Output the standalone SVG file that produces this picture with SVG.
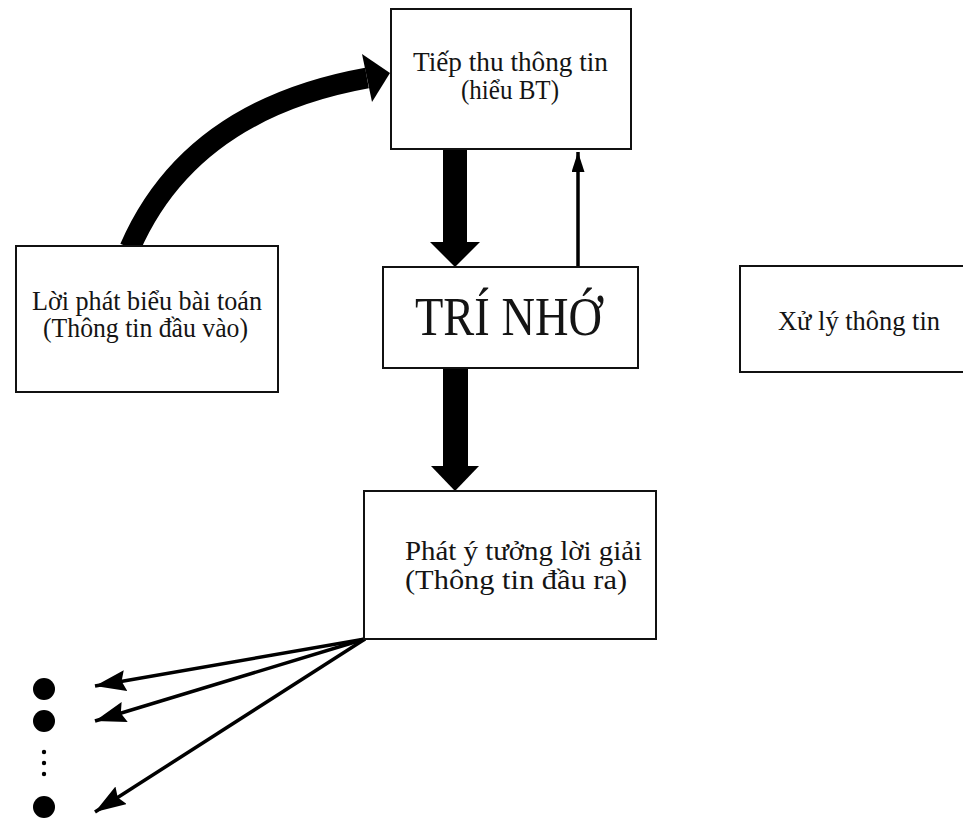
<svg xmlns="http://www.w3.org/2000/svg" width="963" height="822" viewBox="0 0 963 822">
  <style>
    .box { fill: #ffffff; stroke: #111111; stroke-width: 2; }
    .lbl { font-family: "Liberation Serif", "Times New Roman", serif; font-size: 27px; fill: #141414; }
    .big { font-size: 55px; }
    .thin { fill: none; stroke: #000000; stroke-width: 3.5; }
    .solid { fill: #000000; }
  </style>
  <defs>
    <marker id="head" markerUnits="userSpaceOnUse" markerWidth="34" markerHeight="24" refX="31" refY="10.5" orient="auto">
      <path d="M0,0 L31,10.5 L0,21 L4,10.5 Z" fill="#000000"/>
    </marker>
    <marker id="headSmall" markerUnits="userSpaceOnUse" markerWidth="22" markerHeight="14" refX="20" refY="6.5" orient="auto">
      <path d="M0,0 L20,6.5 L0,13 Z" fill="#000000"/>
    </marker>
  </defs>

  <rect width="963" height="822" fill="#ffffff"/>

  <!-- connectors -->
  <g id="connectors">
    <!-- curved input arrow -->
    <path d="M130,248 Q190,110 367,78" fill="none" stroke="#000000" stroke-width="21"/>
    <polygon class="solid" points="362,54 390,73 372,102"/>

    <!-- thick arrow: receive -> memory -->
    <rect class="solid" x="443" y="149" width="24" height="94"/>
    <polygon class="solid" points="430,242 480,242 455,267"/>

    <!-- thin arrow: memory -> receive -->
    <line class="thin" x1="578" y1="267" x2="578" y2="152" stroke-width="2.5" marker-end="url(#headSmall)"/>

    <!-- thick arrow: memory -> output -->
    <rect class="solid" x="443" y="368" width="25" height="99"/>
    <polygon class="solid" points="431,466 479,466 455,491"/>

    <!-- fan of outputs -->
    <line class="thin" x1="365" y1="639" x2="95" y2="686" marker-end="url(#head)"/>
    <line class="thin" x1="365" y1="639" x2="95" y2="721" marker-end="url(#head)"/>
    <line class="thin" x1="365" y1="639" x2="95" y2="812" marker-end="url(#head)"/>
  </g>

  <!-- bullet list -->
  <g id="bullets" fill="#000000">
    <circle cx="44" cy="689" r="11"/>
    <circle cx="44" cy="721" r="11"/>
    <circle cx="44" cy="752" r="2.2"/>
    <circle cx="44" cy="763" r="2.2"/>
    <circle cx="44" cy="774" r="2.2"/>
    <circle cx="44" cy="807" r="11"/>
  </g>

  <g id="receive">
    <rect class="box" x="391" y="9" width="240" height="140"/>
    <text class="lbl" x="510.5" y="71" text-anchor="middle" textLength="195" lengthAdjust="spacingAndGlyphs">Tiếp thu thông tin</text>
    <text class="lbl" x="510" y="99" text-anchor="middle" textLength="98" lengthAdjust="spacingAndGlyphs">(hiểu BT)</text>
  </g>

  <g id="statement">
    <rect class="box" x="16" y="246" width="262" height="146"/>
    <text class="lbl" x="147" y="310" text-anchor="middle" textLength="230" lengthAdjust="spacingAndGlyphs">Lời phát biểu bài toán</text>
    <text class="lbl" x="145.5" y="337" text-anchor="middle" textLength="205" lengthAdjust="spacingAndGlyphs">(Thông tin đầu vào)</text>
  </g>

  <g id="memory">
    <rect class="box" x="383" y="267" width="255" height="101"/>
    <text class="lbl big" x="508.5" y="335" text-anchor="middle" textLength="187" lengthAdjust="spacingAndGlyphs">TRÍ NHỚ</text>
  </g>

  <g id="process">
    <rect class="box" x="740" y="266" width="240" height="106"/>
    <text class="lbl" x="778" y="330" textLength="162" lengthAdjust="spacingAndGlyphs">Xử lý thông tin</text>
  </g>

  <g id="output">
    <rect class="box" x="364" y="491" width="292" height="148"/>
    <text class="lbl" x="405" y="560" textLength="237" lengthAdjust="spacingAndGlyphs">Phát ý tưởng lời giải</text>
    <text class="lbl" x="405" y="589" textLength="222" lengthAdjust="spacingAndGlyphs">(Thông tin đầu ra)</text>
  </g>
</svg>
